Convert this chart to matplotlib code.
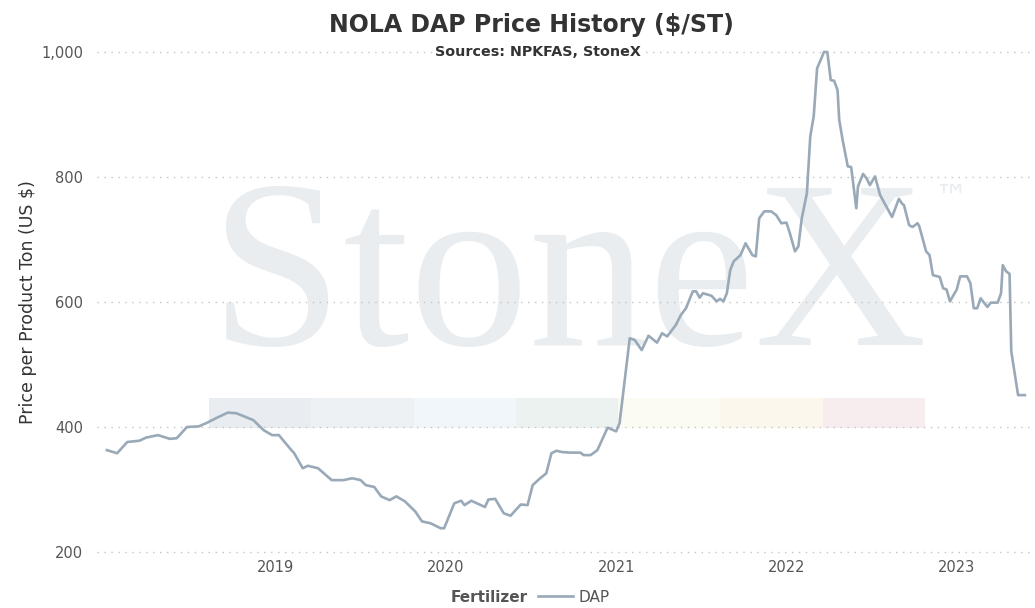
import matplotlib.pyplot as plt
from matplotlib.patches import Rectangle
from matplotlib.lines import Line2D

# weekly NOLA DAP price (decimal year, $/ST)
years = [2018.01, 2018.07, 2018.13, 2018.20, 2018.24, 2018.31, 2018.38, 2018.42,
         2018.48, 2018.55, 2018.60, 2018.65, 2018.72, 2018.77, 2018.87, 2018.93,
         2018.98, 2019.02, 2019.09, 2019.11, 2019.16, 2019.19, 2019.25, 2019.33,
         2019.40, 2019.45, 2019.50, 2019.53, 2019.58, 2019.62, 2019.67, 2019.71,
         2019.76, 2019.82, 2019.86, 2019.91, 2019.97, 2019.99, 2020.05, 2020.09,
         2020.11, 2020.15, 2020.23, 2020.25, 2020.29, 2020.34, 2020.38, 2020.44,
         2020.48, 2020.51, 2020.55, 2020.59, 2020.62, 2020.65, 2020.68, 2020.73,
         2020.79, 2020.81, 2020.85, 2020.89, 2020.95, 2021.00, 2021.02, 2021.08,
         2021.11, 2021.15, 2021.19, 2021.24, 2021.27, 2021.30, 2021.35, 2021.38,
         2021.41, 2021.45, 2021.47, 2021.49, 2021.51, 2021.56, 2021.59, 2021.61,
         2021.63, 2021.65, 2021.67, 2021.69, 2021.73, 2021.76, 2021.80, 2021.82,
         2021.84, 2021.87, 2021.91, 2021.94, 2021.97, 2022.00, 2022.02, 2022.05,
         2022.07, 2022.09, 2022.12, 2022.14, 2022.16, 2022.18, 2022.21, 2022.22,
         2022.24, 2022.26, 2022.28, 2022.30, 2022.31, 2022.33, 2022.36, 2022.38,
         2022.41, 2022.42, 2022.45, 2022.47, 2022.49, 2022.52, 2022.55, 2022.57,
         2022.62, 2022.66, 2022.68, 2022.69, 2022.72, 2022.74, 2022.77, 2022.78,
         2022.82, 2022.84, 2022.86, 2022.90, 2022.92, 2022.94, 2022.96, 2023.00,
         2023.02, 2023.06, 2023.08, 2023.10, 2023.12, 2023.14, 2023.18, 2023.20,
         2023.24, 2023.26, 2023.27, 2023.29, 2023.31, 2023.32, 2023.34, 2023.36,
         2023.40]
dap = [363, 358, 376, 378, 383, 387, 381, 382,
       400, 401, 407, 414, 423, 422, 411, 395,
       387, 387, 364, 358, 334, 338, 334, 315,
       315, 318, 315, 307, 304, 289, 283, 289,
       281, 265, 249, 246, 238, 238, 278, 282,
       275, 282, 272, 284, 285, 262, 258, 276,
       275, 307, 317, 326, 358, 362, 360, 359,
       359, 355, 355, 363, 399, 393, 406, 542,
       539, 523, 546, 535, 550, 545, 563, 579,
       590, 617, 617, 607, 614, 610, 601, 605,
       601, 614, 651, 665, 675, 694, 675, 673,
       734, 745, 745, 739, 726, 727, 710, 681,
       689, 734, 774, 865, 897, 974, 993, 1000,
       1000, 955, 954, 939, 891, 859, 817, 816,
       750, 785, 805, 798, 787, 801, 771, 761,
       736, 765, 757, 755, 723, 720, 726, 721,
       681, 675, 643, 640, 622, 620, 601, 620,
       641, 641, 630, 590, 590, 606, 592, 599,
       599, 614, 659, 649, 645, 521, 486, 451,
       451]

year_ticks = [2019, 2020, 2021, 2022, 2023]
price_ticks = [200, 400, 600, 800, 1000]

band_colors = ['#e9edf1', '#edf1f4', '#f1f6fa', '#ecf2ef', '#fbfbf3', '#fbf7ec', '#f8edee']

line_color = '#99a9b8'
text_color = '#333333'
tick_color = '#555555'

W, H = 1035, 608
fig = plt.figure(figsize=(W / 100, H / 100), dpi=100)
ax = fig.add_axes([97 / W, 1 - 556 / H, (1030 - 97) / W, (556 - 48) / H])
ax.set_zorder(2)
ax.patch.set_alpha(0)

# faded StoneX logo watermark behind the plot
fig.text(210 / W, 1 - 345 / H, 'StoneX', fontsize=172, family='Liberation Serif',
         color='#e9edf0', ha='left', va='baseline', zorder=-1)
fig.text(934 / W, 1 - 208 / H, '\u2122', fontsize=24, family='DejaVu Sans',
         color='#e9edf0', ha='left', va='baseline', zorder=-1)
bx0, bx1 = 209, 925
bw = (bx1 - bx0) / len(band_colors)
for i, c in enumerate(band_colors):
    fig.add_artist(Rectangle(((bx0 + i * bw) / W, 1 - 428 / H), bw / W, 30 / H,
                             transform=fig.transFigure, facecolor=c,
                             edgecolor='none', zorder=-1))

ax.plot(years, dap, color=line_color, linewidth=1.9, zorder=3)

ax.set_xlim(2017.952, 2023.43)
ax.set_ylim(193.6, 1006.4)
ax.set_xticks(year_ticks)
ax.set_xticklabels([str(y) for y in year_ticks])
ax.set_yticks(price_ticks)
ax.set_yticklabels([f'{p:,}' for p in price_ticks])
ax.tick_params(length=0, labelsize=10.5, labelcolor=tick_color)
ax.tick_params(axis='y', pad=10)
ax.tick_params(axis='x', pad=3)
ax.grid(axis='y', color='#c4c4c4', linestyle=(0, (1, 4)), linewidth=1)
ax.set_axisbelow(True)
for s in ax.spines.values():
    s.set_visible(False)

ax.set_ylabel('Price per Product Ton (US $)', fontsize=12.5, color=text_color, labelpad=3)

fig.text(531 / W, 1 - 25 / H, 'NOLA DAP Price History ($/ST)', fontsize=17,
         fontweight='bold', color=text_color, ha='center', va='center', zorder=3)
fig.text(538 / W, 1 - 52 / H, 'Sources: NPKFAS, StoneX', fontsize=10.3,
         fontweight='bold', color=text_color, ha='center', va='center', zorder=3,
         bbox=dict(facecolor='white', edgecolor='none', pad=1))

# legend at the bottom
fig.text(528 / W, 1 - 597 / H, 'Fertilizer', fontsize=11, fontweight='bold',
         color=tick_color, ha='right', va='center')
handle = Line2D([], [], color=line_color, linewidth=1.9)
fig.legend([handle], ['DAP'], loc='center left', bbox_to_anchor=(530 / W, 1 - 597 / H),
           frameon=False, handlelength=2.3, handletextpad=0.4, borderpad=0,
           prop={'size': 11}, labelcolor=tick_color)

fig.savefig('out.png', dpi=100)
